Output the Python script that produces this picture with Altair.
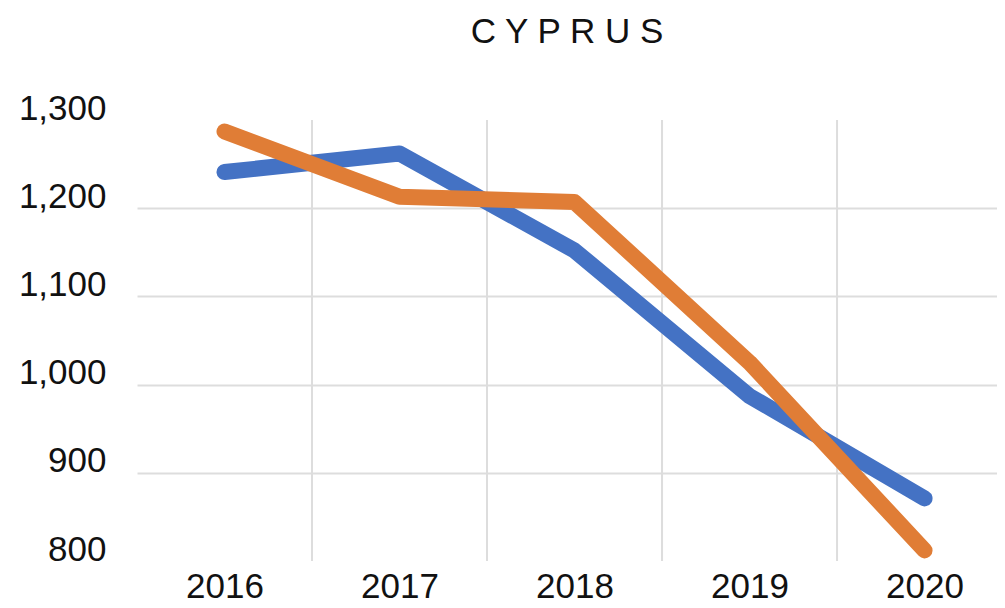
import altair as alt
import pandas as pd

years = [2016, 2017, 2018, 2019, 2020]
series_names = ["Series 1", "Series 2"]
series1_values = [1241, 1262, 1152, 987, 871]
series2_values = [1287, 1213, 1207, 1025, 812]
series_colors = ["#4472C4", "#E07D36"]
y_tick_values = [800, 900, 1000, 1100, 1200, 1300]
title_text = "C Y P R U S"

rows = []
for name, vals in zip(series_names, [series1_values, series2_values]):
    for yr, v in zip(years, vals):
        rows.append({"year": yr, "series": name, "value": v})
df = pd.DataFrame(rows)

# category boundaries between years (vertical gridlines)
grid_df = pd.DataFrame({"year": [y + 0.5 for y in years[:-1]]})

FONT = "Liberation Sans"
GRID = "#dddddd"
W, H = 860, 441

x_scale = alt.Scale(domain=[years[0] - 0.5, years[-1] + 0.414], nice=False, zero=False)
y_scale = alt.Scale(domain=[800, 1300], nice=False, zero=False)

x_axis = alt.Axis(
    values=years, format="d", title=None, labelAngle=0, grid=False,
    domain=False, ticks=False, labelFontSize=35, labelFont=FONT,
    labelColor="#111111", labelPadding=8, labelOverlap=False, labelFlush=False,
)

vgrid = alt.Chart(grid_df).mark_rule(color=GRID, strokeWidth=2).encode(
    x=alt.X("year:Q", scale=x_scale, axis=x_axis),
    y=alt.value(0),
    y2=alt.value(H),
)

lines = alt.Chart(df).mark_line(
    strokeWidth=16, strokeCap="round", strokeJoin="round"
).encode(
    x=alt.X("year:Q", scale=x_scale, axis=x_axis),
    y=alt.Y(
        "value:Q",
        scale=y_scale,
        axis=alt.Axis(
            values=y_tick_values, format=",.0f", title=None, domain=False, ticks=False,
            labelFontSize=35, labelFont=FONT, labelColor="#111111", labelPadding=31,
            labelOffset=-12, gridColor=GRID, gridWidth=2,
            gridOpacity={"condition": {"test": "datum.value == 800 || datum.value == 1300", "value": 0}, "value": 1},
        ),
    ),
    color=alt.Color("series:N", scale=alt.Scale(domain=series_names, range=series_colors), legend=None),
    order=alt.Order("year:Q"),
)

chart = alt.layer(vgrid, lines).properties(
    width=W,
    height=H,
    title=alt.TitleParams(title_text, fontSize=35, font=FONT, fontWeight="normal",
                          color="#111111", anchor="middle", offset=41),
    autosize=alt.AutoSizeParams(type="none"),
    padding={"left": 129, "top": 112, "right": 0, "bottom": 39},
    background="white",
).configure_view(stroke=None)

chart.save("out.html", embed_options={"renderer": "svg", "actions": False})
